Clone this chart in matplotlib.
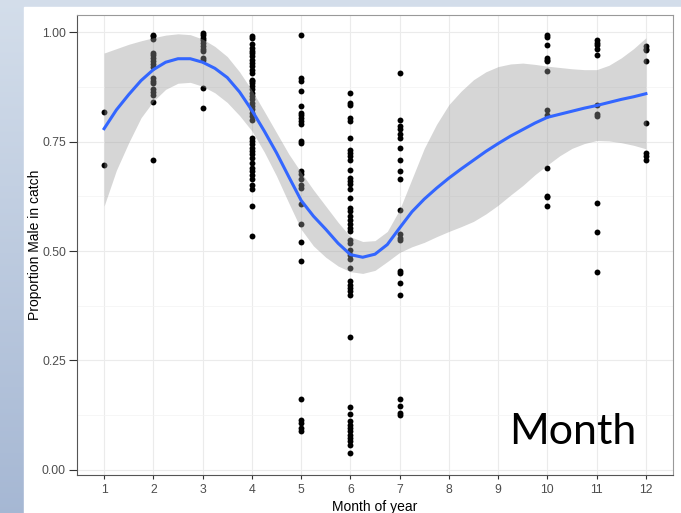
import matplotlib.pyplot as plt
import numpy as np
from matplotlib.patches import Rectangle

# observed proportion male per sample, grouped by month
months = [1, 2, 3, 4, 5, 6, 7, 10, 11, 12]
props = {
    1: [0.818, 0.698],
    2: [0.995, 0.992, 0.986, 0.953, 0.948, 0.942, 0.934, 0.928, 0.921, 0.896,
        0.890, 0.884, 0.870, 0.863, 0.858, 0.841, 0.708],
    3: [0.999, 0.994, 0.988, 0.982, 0.976, 0.969, 0.963, 0.957, 0.942, 0.936,
        0.873, 0.828],
    4: [0.992, 0.988, 0.973, 0.965, 0.957, 0.953, 0.946, 0.938, 0.931, 0.923,
        0.915, 0.908, 0.892, 0.889, 0.885, 0.877, 0.870, 0.862, 0.854, 0.847,
        0.839, 0.831, 0.824, 0.816, 0.808, 0.801, 0.759, 0.751, 0.744, 0.736,
        0.728, 0.721, 0.713, 0.702, 0.690, 0.683, 0.675, 0.664, 0.652, 0.641,
        0.603, 0.534],
    5: [0.995, 0.896, 0.890, 0.867, 0.831, 0.816, 0.811, 0.805, 0.797, 0.791,
        0.751, 0.748, 0.683, 0.677, 0.664, 0.652, 0.645, 0.608, 0.562, 0.522,
        0.478, 0.162, 0.114, 0.108, 0.095, 0.088],
    6: [0.862, 0.839, 0.834, 0.805, 0.797, 0.759, 0.732, 0.725, 0.717, 0.709,
        0.685, 0.667, 0.661, 0.654, 0.641, 0.622, 0.599, 0.591, 0.580, 0.572,
        0.561, 0.553, 0.545, 0.526, 0.519, 0.503, 0.492, 0.481, 0.462, 0.431,
        0.423, 0.416, 0.408, 0.400, 0.304, 0.143, 0.127, 0.112, 0.103, 0.095,
        0.088, 0.080, 0.072, 0.065, 0.057, 0.038],
    7: [0.908, 0.801, 0.786, 0.780, 0.767, 0.759, 0.736, 0.709, 0.683, 0.664,
        0.595, 0.540, 0.530, 0.525, 0.455, 0.450, 0.427, 0.400, 0.162, 0.145,
        0.130, 0.125],
    10: [0.994, 0.989, 0.971, 0.942, 0.938, 0.934, 0.911, 0.822, 0.812, 0.690,
         0.627, 0.623, 0.604],
    11: [0.982, 0.976, 0.971, 0.963, 0.948, 0.835, 0.814, 0.808, 0.610, 0.543,
         0.453],
    12: [0.969, 0.963, 0.959, 0.934, 0.792, 0.725, 0.717, 0.709],
}

# loess smooth and its confidence band (quarter months)
fit_x = [1.0, 1.25, 1.5, 1.75, 2.0, 2.25, 2.5, 2.75, 3.0, 3.25, 3.5, 3.75,
         4.0, 4.25, 4.5, 4.75, 5.0, 5.25, 5.5, 5.75, 6.0, 6.25, 6.5, 6.75,
         7.0, 7.25, 7.5, 7.75, 8.0, 8.25, 8.5, 8.75, 9.0, 9.25, 9.5, 9.75,
         10.0, 10.25, 10.5, 10.75, 11.0, 11.25, 11.5, 11.75, 12.0]
fit_y = [0.780, 0.823, 0.858, 0.890, 0.915, 0.932, 0.940, 0.940, 0.932, 0.918,
         0.897, 0.864, 0.822, 0.775, 0.725, 0.670, 0.616, 0.580, 0.550, 0.518,
         0.492, 0.486, 0.493, 0.515, 0.553, 0.590, 0.619, 0.644, 0.667, 0.688,
         0.708, 0.728, 0.746, 0.763, 0.778, 0.793, 0.806, 0.813, 0.820, 0.827,
         0.833, 0.840, 0.847, 0.853, 0.860]
fit_lo = [0.603, 0.685, 0.748, 0.805, 0.843, 0.870, 0.884, 0.886, 0.877, 0.862,
          0.840, 0.810, 0.775, 0.727, 0.672, 0.610, 0.550, 0.512, 0.486, 0.466,
          0.453, 0.449, 0.456, 0.476, 0.497, 0.510, 0.520, 0.533, 0.545, 0.556,
          0.568, 0.585, 0.605, 0.628, 0.650, 0.675, 0.697, 0.718, 0.735, 0.746,
          0.753, 0.752, 0.748, 0.742, 0.734]
fit_hi = [0.953, 0.963, 0.973, 0.981, 0.988, 0.994, 0.997, 0.995, 0.985, 0.968,
          0.945, 0.910, 0.868, 0.820, 0.771, 0.722, 0.680, 0.640, 0.603, 0.566,
          0.533, 0.522, 0.524, 0.545, 0.595, 0.665, 0.735, 0.790, 0.835, 0.866,
          0.892, 0.910, 0.922, 0.928, 0.930, 0.927, 0.923, 0.920, 0.917, 0.915,
          0.915, 0.925, 0.942, 0.963, 0.988]

fig = plt.figure(figsize=(6.81, 5.13), dpi=100)
plt.rcParams['font.family'] = ['Liberation Sans', 'DejaVu Sans']

# slide background: blue gradient with a white card on top
bg = fig.add_axes([0, 0, 1, 1], zorder=-10)
grad = np.linspace(0, 1, 256).reshape(-1, 1)
top_c = np.array([0.83, 0.87, 0.92])
bot_c = np.array([0.65, 0.72, 0.83])
img = top_c + (bot_c - top_c) * grad[:, :, None]
bg.imshow(img, aspect='auto', extent=[0, 1, 0, 1])
bg.add_patch(Rectangle((24 / 681, 0), 1, 1 - 7 / 513, color='white'))
bg.set_xlim(0, 1)
bg.set_ylim(0, 1)
bg.axis('off')

ax = fig.add_axes([77 / 681, 38 / 513, 596 / 681, 460 / 513])

for m in months:
    ax.scatter([m] * len(props[m]), props[m], s=18, color='black',
               linewidths=0, zorder=2)

ax.fill_between(fit_x, fit_lo, fit_hi, color='#999999', alpha=0.4,
                linewidth=0, zorder=3)
ax.plot(fit_x, fit_y, color='#3366FF', linewidth=2.2, zorder=4,
        solid_joinstyle='round')

ax.set_xlim(0.45, 12.55)
ax.set_ylim(-0.012, 1.04)
ax.set_xticks(range(1, 13))
ax.set_yticks([0, 0.25, 0.5, 0.75, 1.0])
ax.set_yticklabels(['0.00', '0.25', '0.50', '0.75', '1.00'])
ax.set_yticks([0.125, 0.375, 0.625, 0.875], minor=True)
ax.grid(which='major', color='#ebebeb', linewidth=0.8, zorder=0)
ax.grid(which='minor', axis='y', color='#f3f3f3', linewidth=0.5, zorder=0)
ax.set_axisbelow(True)
ax.tick_params(axis='both', which='major', labelsize=8.8, colors='#333333',
               labelcolor='#4d4d4d', length=3, width=0.8)
ax.tick_params(axis='y', which='major', length=5.5, pad=2.5)
ax.tick_params(which='minor', length=0)
for side in ['left', 'bottom']:
    ax.spines[side].set_color('#555555')
for side in ['top', 'right']:
    ax.spines[side].set_color('#999999')

ax.set_xlabel('Month of year', fontsize=10, labelpad=3)
ax.set_ylabel('Proportion Male in catch', fontsize=10, labelpad=0)

ax.text(0.725, 0.068, 'Month', transform=ax.transAxes, fontsize=31,
        family=['Lato', 'DejaVu Sans'], color='black', zorder=5)

fig.savefig('out.png', dpi=100)
